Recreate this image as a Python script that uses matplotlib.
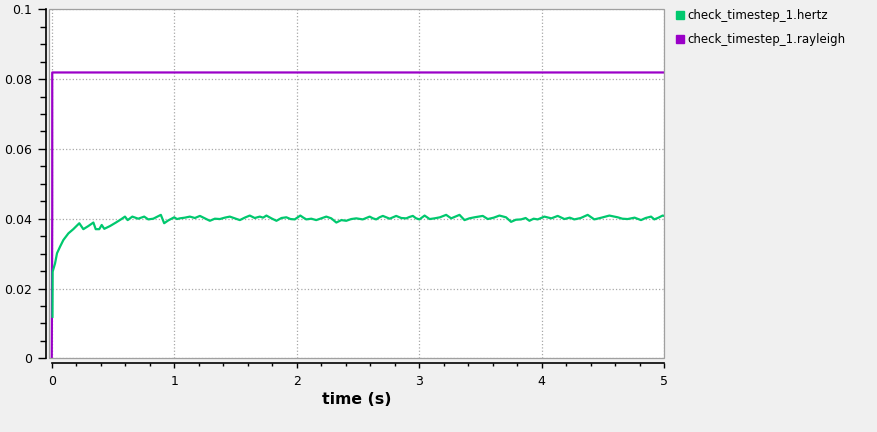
import numpy as np
import matplotlib
matplotlib.use("Agg")
import matplotlib.pyplot as plt
from matplotlib.lines import Line2D
from matplotlib.patches import Rectangle
from matplotlib.ticker import MultipleLocator

# Datos
t_hertz = [0.006, 0.007, 0.027, 0.043, 0.068, 0.095, 0.136, 0.176, 0.225,
           0.258, 0.299, 0.34, 0.359, 0.388, 0.408, 0.429, 0.476, 0.524, 0.565,
           0.598, 0.62, 0.658, 0.706, 0.755, 0.788, 0.829, 0.891, 0.918, 0.951,
           1.0, 1.023, 1.046, 1.087, 1.128, 1.169, 1.21, 1.25, 1.291, 1.332,
           1.373, 1.413, 1.454, 1.495, 1.536, 1.576, 1.617, 1.658, 1.699, 1.726,
           1.753, 1.794, 1.835, 1.876, 1.916, 1.95, 1.984, 2.03, 2.055, 2.079,
           2.12, 2.16, 2.2, 2.242, 2.283, 2.324, 2.365, 2.405, 2.446, 2.487,
           2.54, 2.596, 2.623, 2.65, 2.677, 2.704, 2.76, 2.813, 2.854, 2.895,
           2.922, 2.949, 2.976, 3.003, 3.045, 3.086, 3.126, 3.17, 3.221, 3.262,
           3.296, 3.33, 3.371, 3.41, 3.452, 3.52, 3.561, 3.61, 3.656, 3.71,
           3.751, 3.79, 3.833, 3.87, 3.901, 3.935, 3.969, 4.023, 4.08, 4.132,
           4.187, 4.23, 4.268, 4.32, 4.377, 4.431, 4.49, 4.554, 4.622, 4.66,
           4.703, 4.76, 4.812, 4.85, 4.894, 4.921, 4.955, 4.989, 5.0]
hertz = [0.0119, 0.0248, 0.0272, 0.0301, 0.032, 0.0339, 0.0358, 0.037, 0.0387,
         0.037, 0.0379, 0.0389, 0.037, 0.037, 0.0382, 0.0371, 0.0379, 0.0389, 0.0398,
         0.0406, 0.0396, 0.0406, 0.040, 0.0406, 0.0398, 0.040, 0.0411, 0.0387, 0.0395,
         0.0404, 0.0399, 0.0401, 0.0403, 0.0406, 0.0402, 0.0408, 0.0401, 0.0394, 0.0400,
         0.0399, 0.0403, 0.0406, 0.0401, 0.0396, 0.0403, 0.0409, 0.0402, 0.0406, 0.0403,
         0.0409, 0.0401, 0.0394, 0.0402, 0.0404, 0.0399, 0.0398, 0.0409, 0.0403, 0.0398,
         0.0400, 0.0396, 0.0401, 0.0406, 0.0401, 0.0389, 0.0396, 0.0394, 0.0399, 0.0401,
         0.0398, 0.0406, 0.0401, 0.0398, 0.0404, 0.0408, 0.0400, 0.0408, 0.0402, 0.0401,
         0.0405, 0.0408, 0.0401, 0.0398, 0.0409, 0.0399, 0.0401, 0.0404, 0.0411, 0.0401,
         0.0406, 0.0411, 0.0396, 0.0401, 0.0404, 0.0408, 0.0399, 0.0403, 0.0409, 0.0404,
         0.0391, 0.0397, 0.0398, 0.0402, 0.0394, 0.0400, 0.0398, 0.0406, 0.0401, 0.0408,
         0.0399, 0.0403, 0.0398, 0.0402, 0.0411, 0.0398, 0.0403, 0.0409, 0.0404, 0.0400,
         0.0399, 0.0403, 0.0396, 0.0402, 0.0406, 0.0398, 0.0403, 0.0409, 0.0408]

t_rayleigh = [0.0, 0.004, 0.004, 5.0]
rayleigh = [0.0, 0.041, 0.0819, 0.0819]

y_ticks = [0, 0.02, 0.04, 0.06, 0.08, 0.1]
y_labels = ['0', '0.02', '0.04', '0.06', '0.08', '0.1']
x_ticks = [0, 1, 2, 3, 4, 5]
x_labels = ['0', '1', '2', '3', '4', '5']
nombres = ['check_timestep_1.hertz', 'check_timestep_1.rayleigh']
colores = ['#00c86e', '#9a00c8']

fig = plt.figure(figsize=(8.77, 4.32), dpi=100, facecolor='#f0f0f0')
ax = fig.add_axes([49.3 / 877, 1 - 358.3 / 432, (664 - 49.3) / 877, (358.3 - 9.3) / 432])
ax.set_facecolor('white')

ax.plot(t_rayleigh, rayleigh, color=colores[1], linewidth=1.6)
ax.plot(t_hertz, hertz, color=colores[0], linewidth=1.6)

ax.set_xlim(-0.02, 5)
ax.set_ylim(0, 0.1)
ax.set_xticks(x_ticks)
ax.set_xticklabels(x_labels)
ax.set_yticks(y_ticks)
ax.set_yticklabels(y_labels)
ax.xaxis.set_minor_locator(MultipleLocator(0.2))
ax.yaxis.set_minor_locator(MultipleLocator(0.005))

# Ejes separados del area de la grafica
ax.spines['left'].set_position(('outward', 2.4))
ax.spines['bottom'].set_position(('outward', 3.6))
ax.spines['bottom'].set_bounds(0, 5)
for lado in ['left', 'bottom']:
    ax.spines[lado].set_color('black')
    ax.spines[lado].set_linewidth(1.2)
ax.spines['top'].set_visible(False)
ax.spines['right'].set_visible(False)
ax.add_patch(Rectangle((0, 0), 1, 1, transform=ax.transAxes, fill=False,
                       edgecolor='#a0a0a0', linewidth=0.9, clip_on=False, zorder=3))

ax.tick_params(axis='both', which='major', labelsize=9, width=1.0, color='black')
ax.tick_params(axis='y', which='major', length=5.6, pad=4.3)
ax.tick_params(axis='y', which='minor', length=4.3, width=1.0)
ax.tick_params(axis='x', which='major', length=3.6, pad=5)
ax.tick_params(axis='x', which='minor', length=2.4, width=1.0)

ax.grid(True, which='major', linestyle=':', color='#a8a8a8', linewidth=0.9)
ax.set_axisbelow(True)

ax.set_xlabel('time (s)', fontsize=11.3, fontweight='bold', labelpad=3)

handles = [Line2D([], [], marker='s', linestyle='none', markersize=6,
                  markerfacecolor=c, markeredgecolor=c) for c in colores]
ax.legend(handles, nombres, loc='upper left', bbox_to_anchor=(676 / 877, 1 - 9 / 432),
          bbox_transform=fig.transFigure, frameon=False, fontsize=8.5,
          handlelength=0.6, handletextpad=0.4, labelspacing=0.95, borderaxespad=0,
          borderpad=0)

plt.savefig('out.png', dpi=100, facecolor=fig.get_facecolor())
